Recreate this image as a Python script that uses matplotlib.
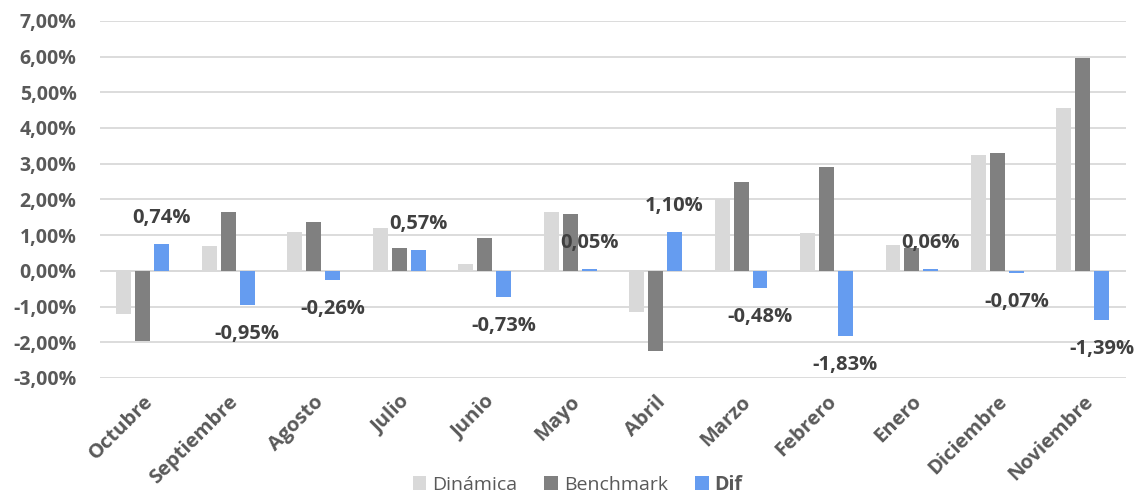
import matplotlib

matplotlib.use("Agg")
import matplotlib.pyplot as plt
import numpy as np
from matplotlib.ticker import FuncFormatter

plt.rcParams["font.family"] = ["Open Sans", "DejaVu Sans"]

months = ["Octubre", "Septiembre", "Agosto", "Julio", "Junio", "Mayo",
          "Abril", "Marzo", "Febrero", "Enero", "Diciembre", "Noviembre"]
dinamica = [-1.22, 0.70, 1.10, 1.21, 0.20, 1.64, -1.14, 2.02, 1.07, 0.71, 3.23, 4.56]
benchmark = [-1.96, 1.66, 1.36, 0.64, 0.93, 1.59, -2.24, 2.50, 2.90, 0.65, 3.31, 5.96]
dif = [0.74, -0.95, -0.26, 0.57, -0.73, 0.05, 1.10, -0.48, -1.83, 0.06, -0.07, -1.39]

c_din = "#D9D9D9"
c_ben = "#808080"
c_dif = "#659CF0"

fig = plt.figure(figsize=(11.37, 4.96), dpi=100)
ax = fig.add_axes([0.088, 0.238, 0.902, 0.72])

x = np.arange(len(months))
step, w = 0.222, 0.175
ax.bar(x - step, dinamica, w, color=c_din, label="Dinámica", zorder=3)
ax.bar(x, benchmark, w, color=c_ben, label="Benchmark", zorder=3)
ax.bar(x + step, dif, w, color=c_dif, label="Dif", zorder=3)

# data labels for the difference series
for xi, v in zip(x + step, dif):
    off = 26 if v >= 0 else -29
    ax.annotate(f"{v:.2f}%".replace(".", ","), (xi, v), xytext=(0, off),
                textcoords="offset pixels", ha="center", va="center",
                fontsize=14.5, fontweight="bold", color="#404040", zorder=4)

ax.set_xlim(-0.5, len(months) - 0.5)
ax.set_ylim(-3, 7)
ax.set_yticks(np.arange(-3, 8, 1))
ax.yaxis.set_major_formatter(FuncFormatter(lambda v, p: f"{v:.2f}%".replace(".", ",")))
ax.grid(axis="y", color="#D9D9D9", lw=1.3, zorder=0)
ax.axhline(0, color="#D9D9D9", lw=1.3, zorder=2)
for s in ax.spines.values():
    s.set_visible(False)
ax.tick_params(length=0, colors="#595959", labelsize=14)
ax.tick_params(axis="y", pad=17)
ax.set_xticks(x)
ax.set_xticklabels(months, rotation=45, ha="right", rotation_mode="anchor", fontweight="bold")
ax.tick_params(axis="x", pad=10, labelsize=14.5)
for t in ax.get_yticklabels():
    t.set_fontweight("bold")

leg = fig.legend(*ax.get_legend_handles_labels(), loc="center", bbox_to_anchor=(0.508, 0.022),
                 ncol=3, frameon=False, fontsize=14, handlelength=0.7, handleheight=0.7,
                 handletextpad=0.3, columnspacing=1.4, labelcolor="#595959",
                 borderaxespad=0, borderpad=0)
leg.get_texts()[2].set_fontweight("bold")

fig.savefig("out.png", dpi=100)
